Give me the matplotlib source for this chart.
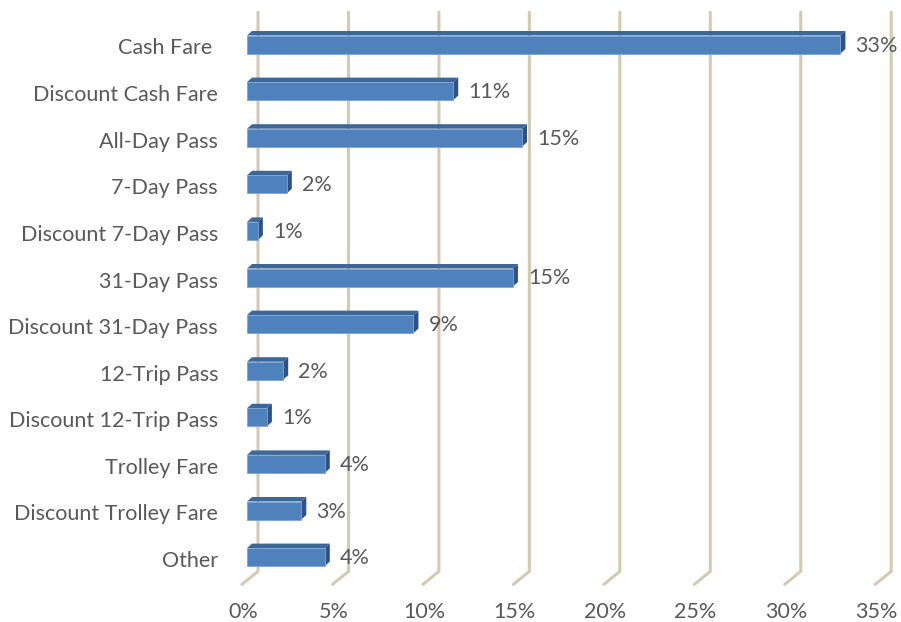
import matplotlib
matplotlib.use("Agg")
import matplotlib.pyplot as plt
from matplotlib.patches import Polygon

# Share of boardings by fare type (percent)
categories = [
    "Cash Fare ", "Discount Cash Fare", "All-Day Pass", "7-Day Pass",
    "Discount 7-Day Pass", "31-Day Pass", "Discount 31-Day Pass",
    "12-Trip Pass", "Discount 12-Trip Pass", "Trolley Fare",
    "Discount Trolley Fare", "Other",
]
shares = [32.8, 11.4, 15.2, 2.2, 0.6, 14.7, 9.2, 2.0, 1.1, 4.3, 3.0, 4.3]
x_ticks = [0, 5, 10, 15, 20, 25, 30, 35]
x_tick_labels = ["0%", "5%", "10%", "15%", "20%", "25%", "30%", "35%"]

FONT = ["Lato", "DejaVu Sans"]
FS = 15.5
TEXT_COLOR = "#595959"
GRID_COLOR = "#D4CAB3"
FRONT = "#4F81BD"
TOP = "#3D6699"
SIDE = "#2D5283"
EDGE = "#7FA3D3"

W, H = 901, 622
fig = plt.figure(figsize=(W / 100, H / 100), dpi=100)
ax = fig.add_axes([247 / W, 1 - 580.4 / H, 633.2 / W, 559.2 / H])
n = len(categories)
ax.set_xlim(x_ticks[0], x_ticks[-1])
ax.set_ylim(n - 0.5, -0.5)
ax.axis("off")

# data units per screen pixel, used for the oblique depth of the 3-D look
ux = (x_ticks[-1] - x_ticks[0]) / 633.2
uy = n / 559.2


def shift(x, y, dx, dy):
    """Move a data point by (dx, dy) screen pixels (dy positive = up)."""
    return (x + dx * ux, y - dy * uy)


BACK = (11, 9)      # back wall relative to the bar front faces
FRONT_P = (-5, -4)  # front edge of the floor
DEPTH = (5, 4.5)    # bar depth
bar_h = 18 * uy

y_floor = n - 0.5
y_top = -0.5

# back-wall gridlines and floor edges
for t in x_ticks:
    p0 = shift(t, y_top, *BACK)
    p1 = shift(t, y_floor, *BACK)
    p2 = shift(t, y_floor, *FRONT_P)
    ax.plot([p0[0], p1[0], p2[0]], [p0[1], p1[1], p2[1]], color=GRID_COLOR,
            lw=2.2, solid_capstyle="round", solid_joinstyle="miter",
            clip_on=False, zorder=1)

# bars: front face, top face and end face
for i, v in enumerate(shares):
    y0 = i - bar_h / 2   # upper edge (y axis inverted)
    y1 = i + bar_h / 2
    top = Polygon([(0, y0), (v, y0), shift(v, y0, *DEPTH), shift(0, y0, *DEPTH)],
                  closed=True, facecolor=TOP, edgecolor="none",
                  clip_on=False, zorder=3)
    side = Polygon([(v, y0), (v, y1), shift(v, y1, *DEPTH), shift(v, y0, *DEPTH)],
                   closed=True, facecolor=SIDE, edgecolor="none",
                   clip_on=False, zorder=3)
    front = Polygon([(0, y0), (v, y0), (v, y1), (0, y1)], closed=True,
                    facecolor=FRONT, edgecolor=EDGE, lw=0.6,
                    clip_on=False, zorder=4)
    for p in (top, side, front):
        ax.add_patch(p)
    ax.annotate(f"{v:.0f}%", xy=(v, i), xytext=(15, -1),
                textcoords="offset pixels", ha="left", va="center",
                fontsize=FS, family=FONT, color=TEXT_COLOR, zorder=5,
                annotation_clip=False)

# category labels
for i, name in enumerate(categories):
    ax.annotate(name, xy=(0, i), xytext=(-29, -4), textcoords="offset pixels",
                ha="right", va="center", fontsize=FS, family=FONT,
                color=TEXT_COLOR, annotation_clip=False)

# value axis labels along the front edge of the floor
for t, lab in zip(x_ticks, x_tick_labels):
    ax.annotate(lab, xy=(t, y_floor), xytext=(FRONT_P[0] + 1, FRONT_P[1] - 28),
                textcoords="offset pixels", ha="center", va="center",
                fontsize=FS, family=FONT, color=TEXT_COLOR,
                annotation_clip=False)

fig.savefig("out.png", dpi=100)
